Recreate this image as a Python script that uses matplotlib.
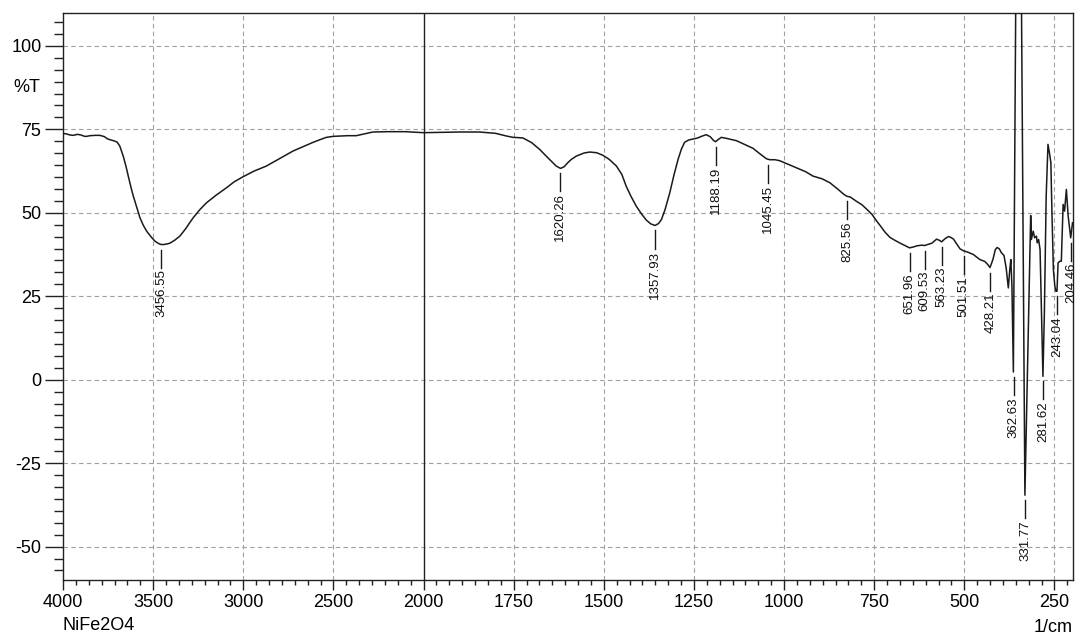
import numpy as np
import matplotlib
matplotlib.use("Agg")
import matplotlib.pyplot as plt

plt.rcParams['font.family'] = ['Liberation Sans', 'DejaVu Sans']
plt.rcParams['axes.unicode_minus'] = False

# ---------------- data ----------------
wavenumber = [
    4000, 3980, 3960, 3943, 3920, 3900, 3880, 3869, 3850, 3820, 3795, 3770, 3755, 3740,
    3720, 3700, 3685, 3666, 3650, 3638, 3620, 3610, 3590, 3573, 3555, 3536, 3510, 3490,
    3470, 3456, 3440, 3420, 3407, 3380, 3352, 3320, 3300, 3278, 3240, 3204, 3150, 3093,
    3050, 3001, 2940, 2872, 2800, 2724, 2660, 2613, 2570, 2539, 2500, 2465, 2420, 2373,
    2330, 2281, 2200, 2100, 2000,
    1950, 1900, 1845, 1800, 1789, 1770, 1752, 1735, 1724, 1700, 1678, 1660, 1646, 1632,
    1620, 1610, 1600, 1590, 1576, 1555, 1539, 1520, 1502, 1485, 1465, 1450, 1438, 1425,
    1410, 1395, 1382, 1370, 1358, 1348, 1340, 1330, 1317, 1305, 1294, 1285, 1276, 1265,
    1253, 1240, 1229, 1216, 1205, 1195, 1190, 1182, 1174, 1160, 1132, 1110, 1086, 1065,
    1049, 1040, 1025, 1012, 990, 966, 940, 920, 895, 873, 850, 835, 827, 816, 800, 784,
    770, 756, 745, 733, 720, 706, 690, 678, 665, 652, 640, 632, 618, 610, 604, 590, 577,
    570, 563, 554, 544, 537, 530, 520, 512, 502, 490, 475, 457, 443, 435, 429, 424, 420,
    414, 409, 403, 397, 390, 384, 378, 374, 371, 368, 364, 357, 350, 342, 332, 316, 314,
    309, 305, 300, 298, 294, 290, 285, 282, 278, 273, 268, 264, 260, 257, 253, 249, 246,
    243, 240, 235, 231, 226, 222, 217, 212, 205, 200]
transmittance = [
    73.8, 73.6, 73.3, 73.2, 73.5, 73.3, 72.9, 72.9, 73.1, 73.2, 73.2, 72.8, 72.2, 71.9,
    71.6, 71.2, 70.0, 67.0, 63.8, 61.0, 57.0, 55.0, 51.5, 48.5, 46.3, 44.5, 42.7, 41.5,
    40.8, 40.5, 40.5, 40.7, 40.9, 41.8, 43.0, 45.2, 46.8, 48.5, 51.0, 53.0, 55.3, 57.5,
    59.3, 60.8, 62.5, 64.0, 66.2, 68.5, 70.0, 71.1, 72.0, 72.6, 72.9, 73.0, 73.1, 73.1,
    73.6, 74.2, 74.3, 74.3, 74.0,
    74.1, 74.2, 74.2, 73.8, 73.5, 73.0, 72.6, 72.5, 72.4, 71.0, 69.0, 67.0, 65.5, 64.0,
    63.3, 63.8, 65.0, 66.0, 67.0, 67.9, 68.2, 68.0, 67.2, 66.0, 64.0, 61.5, 58.0, 55.0,
    52.0, 49.6, 47.8, 46.7, 46.2, 46.8, 48.0, 51.0, 56.0, 61.5, 66.0, 69.0, 71.1, 71.8,
    72.1, 72.4, 72.9, 73.4, 72.8, 71.6, 71.3, 72.0, 72.6, 72.3, 71.6, 70.5, 69.3, 67.5,
    66.2, 65.9, 65.9, 65.6, 64.6, 63.5, 62.3, 61.0, 60.2, 59.0, 57.0, 55.6, 55.0, 54.7,
    53.5, 52.4, 51.0, 49.5, 47.8, 46.1, 44.2, 42.6, 41.6, 40.9, 40.2, 39.5, 39.8, 40.1,
    40.3, 40.2, 40.4, 40.9, 42.1, 41.8, 41.3, 42.2, 42.9, 42.6, 42.1, 40.5, 39.2, 38.6,
    38.2, 37.5, 36.0, 35.4, 34.5, 33.6, 35.0, 36.3, 39.0, 39.6, 39.2, 38.0, 37.2, 33.5,
    27.5, 33.0, 36.0, 28.0, 2.3, 120.0, 140.0, 120.0, -34.6, 49.2, 42.0, 44.5, 42.5,
    43.0, 41.0, 42.0, 39.0, 15.0, 1.0, 20.0, 55.0, 70.5, 68.0, 65.0, 50.0, 33.0, 28.0,
    26.5, 26.5, 35.0, 35.5, 35.5, 52.5, 50.5, 57.0, 49.0, 42.5, 47.0]

peak_positions = [3456.55, 1620.26, 1357.93, 1188.19, 1045.45, 825.56, 651.96, 609.53,
                  563.23, 501.51, 428.21, 362.63, 331.77, 281.62, 243.04, 204.46]
peak_values = [40.5, 63.3, 46.2, 71.3, 65.8, 55.0, 39.5, 40.2, 41.3, 38.6, 33.6, 2.3,
               -34.6, 1.0, 26.5, 42.5]

x_major = [4000, 3500, 3000, 2500, 2000, 1750, 1500, 1250, 1000, 750, 500, 250]
y_major = [-50, -25, 0, 25, 50, 75, 100]

# ---------------- scale: 4000-2000 compressed by 2 ----------------
def fwd(x):
    x = np.asarray(x, dtype=float)
    return np.where(x > 2000, 2000 + (x - 2000) / 2.0, x)

def inv(u):
    u = np.asarray(u, dtype=float)
    return np.where(u > 2000, 2000 + (u - 2000) * 2.0, u)

fig = plt.figure(figsize=(10.78, 6.35), dpi=100)
ax = fig.add_axes([63 / 1078, 1 - 580 / 635, (1072.5 - 63) / 1078, (580 - 12.5) / 635])
ax.set_xscale('function', functions=(fwd, inv))
ax.set_xlim(4000, 200)
ax.set_ylim(-60, 110)

grid_kw = dict(color='#a0a0a0', lw=0.8, ls=(0, (4, 3)), zorder=1)
for xv in x_major:
    if xv not in (4000, 2000):
        ax.axvline(xv, **grid_kw)
for yv in y_major:
    ax.axhline(yv, **grid_kw)
ax.axvline(2000, color='#222222', lw=1.0, zorder=2)

ax.plot(wavenumber, transmittance, color='#1a1a1a', lw=1.1, zorder=3)

# ticks
ax.set_xticks(x_major)
ax.set_xticklabels([str(v) for v in x_major])
minor_x = []
for a, b in zip(x_major[:-1], x_major[1:]):
    step = (a - b) / 7.0
    minor_x += [a - k * step for k in range(1, 7)]
minor_x.append(250 - 250 / 7.0)
ax.set_xticks(minor_x, minor=True)

ax.set_yticks(y_major)
ax.set_yticklabels([str(v) for v in y_major])
ystep = 25 / 7.0
minor_y = [v + k * ystep for v in [-75] + y_major for k in range(1, 7)]
minor_y = [v for v in minor_y if -60 <= v <= 110 and all(abs(v - m) > 0.1 for m in y_major)]
ax.set_yticks(minor_y, minor=True)

ax.tick_params(axis='both', which='both', direction='out', width=1.0, colors='#222222',
               labelcolor='black', labelsize=13)
ax.tick_params(axis='y', which='major', length=13, pad=2.5)
ax.tick_params(axis='y', which='minor', length=6.7)
ax.tick_params(axis='x', which='major', length=7.2, pad=3)
ax.tick_params(axis='x', which='minor', length=3.6)
for s in ax.spines.values():
    s.set_color('#222222')
    s.set_linewidth(1.0)

# axis texts
ax.text(-0.0225, 87.5, '%T', transform=ax.get_yaxis_transform(), ha='right',
        va='center', fontsize=13)
fig.text(63 / 1078, 1 - 626 / 635, 'NiFe2O4', ha='left', va='center', fontsize=13)
fig.text(1073 / 1078, 1 - 627 / 635, '1/cm', ha='right', va='center', fontsize=13)

# peak labels
for xp, yp in zip(peak_positions, peak_values):
    y1 = yp - 1.5
    y2 = y1 - 5.4
    ax.plot([xp, xp], [y1, y2], color='#1a1a1a', lw=1.0, zorder=3, clip_on=False)
    ax.text(xp, y2 - 0.6, f'{xp:.2f}', rotation=90, ha='center', va='top',
            fontsize=9.5, color='#111111', clip_on=False, zorder=4)

fig.savefig('out.png', dpi=100)
